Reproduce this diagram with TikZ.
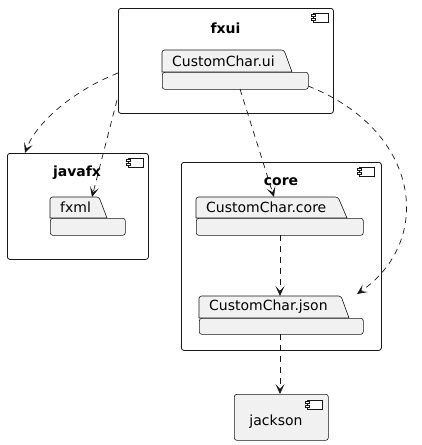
\documentclass[tikz,border=0pt]{standalone}
\usepackage{fontspec}
\setmainfont{DejaVu Sans}
\usetikzlibrary{arrows.meta}
\definecolor{pfill}{HTML}{F1F1F1}
\definecolor{pline}{HTML}{181818}
\tikzset{
  container/.style={draw=pline, line width=0.8pt, rounded corners=2.5pt, fill=white, inner sep=0pt, anchor=north west},
  pkgbody/.style={draw=pline, line width=0.6pt, rounded corners=2.5pt, fill=pfill, inner sep=0pt, anchor=north west},
  compbox/.style={draw=pline, line width=0.6pt, rounded corners=2.5pt, fill=pfill, inner sep=0pt, anchor=north west},
  title/.style={font=\fontsize{14}{16}\selectfont\bfseries, inner sep=0pt},
  lbl/.style={font=\fontsize{14}{16}\selectfont, inner sep=0pt},
  dep/.style={draw=pline, line width=0.7pt, dash pattern=on 6pt off 5pt, -{Stealth[length=10pt,width=9pt,inset=5pt]}},
  iconln/.style={draw=pline, line width=0.6pt, fill=white},
}
\newcommand{\compicon}[2]{%
  \draw[iconln] (#1+2,#2) rectangle (#1+17,#2+9);
  \draw[iconln] (#1,#2+1.5) rectangle (#1+4,#2+3.5);
  \draw[iconln] (#1,#2+5.5) rectangle (#1+4,#2+7.5);
}
% tab: x1, ytop, xslantTop, xslantBottom, ybottom
\newcommand{\pkgtab}[5]{%
  \draw[draw=pline, line width=0.6pt, fill=pfill, rounded corners=2.5pt] (#1,#5) -- (#1,#2) -- (#3,#2) [sharp corners] -- (#4,#5) -- cycle;
}
\begin{document}
\begin{tikzpicture}[x=1pt,y=-1pt]
\useasboundingbox (0,0) rectangle (421,445);

% fxui
\node[container, minimum width=215pt, minimum height=105pt] (fxui) at (118,8) {};
\compicon{311}{13}
\node[title] (fxuit) at (225.5,28) {fxui};
\pkgtab{162}{50}{284}{292}{72}
\node[pkgbody, minimum width=146pt, minimum height=17pt] (ui) at (162,72) {};
\node[lbl, anchor=west] (uit) at (172,61) {CustomChar.ui};

% javafx
\node[container, minimum width=141pt, minimum height=106pt] (javafx) at (7,153) {};
\compicon{126}{158}
\node[title] (javafxt) at (77,173) {javafx};
\pkgtab{50}{197}{99}{107}{218}
\node[pkgbody, minimum width=75pt, minimum height=17pt] (fxml) at (50,218) {};
\node[lbl, anchor=west] (fxmlt) at (60,207.5) {fxml};

% core
\node[container, minimum width=200pt, minimum height=188pt] (core) at (181,162) {};
\compicon{357}{167}
\node[title] (coret) at (281,182) {core};
\pkgtab{196}{197}{338}{347}{218}
\node[pkgbody, minimum width=167pt, minimum height=17pt] (ccore) at (196,218) {};
\node[lbl, anchor=west] (ccoret) at (206,207.5) {CustomChar.core};
\pkgtab{199}{296}{341}{349}{318}
\node[pkgbody, minimum width=164pt, minimum height=16pt] (cjson) at (199,318) {};
\node[lbl, anchor=west] (cjsont) at (209,307) {CustomChar.json};

% jackson
\node[compbox, minimum width=94pt, minimum height=46pt] (jackson) at (234,394) {};
\compicon{305}{400}
\node[lbl] (jacksont) at (276,422) {jackson};

% connectors
\coordinate (a1) at (118,73);
\coordinate (a1e) at (25,153);
\draw[dep] (a1) .. controls (70,92) and (35,125) .. (a1e);
\coordinate (a2) at (117,100);
\coordinate (a2e) at (92,197);
\draw[dep] (a2) -- (a2e);
\coordinate (a3) at (240,89);
\coordinate (a3e) at (274,197);
\draw[dep] (a3) -- (a3e);
\coordinate (a4) at (308,86);
\coordinate (a4e) at (357,294);
\draw[dep] (a4) .. controls (420,130) and (435,240) .. (a4e);
\coordinate (a5) at (280,235);
\coordinate (a5e) at (280,296);
\draw[dep] (a5) -- (a5e);
\coordinate (a6) at (280,334);
\coordinate (a6e) at (280,394);
\draw[dep] (a6) -- (a6e);
\end{tikzpicture}
\end{document}
